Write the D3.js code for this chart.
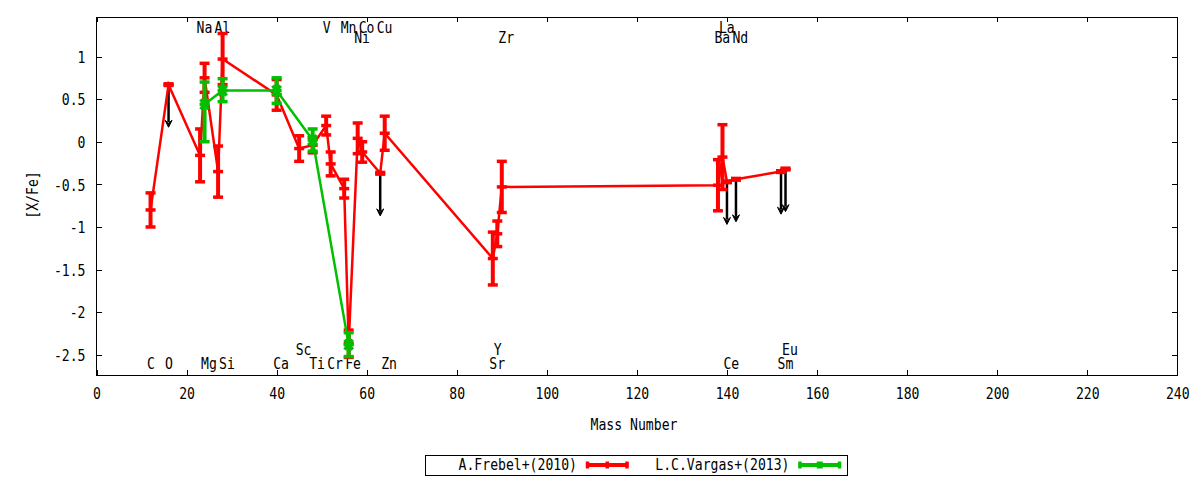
<!DOCTYPE html>
<html>
<head>
<meta charset="utf-8">
<script src="https://d3js.org/d3.v7.min.js"></script>
<style>
  body { margin: 0; background: #fff; }
  text { font-family: "DejaVu Sans Mono", monospace; font-size: 16px; fill: #000; }
</style>
</head>
<body>
<script>
// A.Frebel+(2010)
var frebelElem  = ["C","O","Na","Mg","Al","Si","Ca","Sc","Ti","V","Cr","Mn","Fe","Ni","Co","Cu","Zn","Sr","Y","Zr","Ba","La","Ce","Nd","Sm","Eu"];
var frebelMass  = [12, 16, 23, 24, 27, 28, 40, 45, 48, 51, 52, 55, 56, 58, 59, 63, 64, 88, 89, 90, 138, 139, 140, 142, 152, 153];
var frebelVal   = [-0.80, 0.67, -0.16, 0.75, -0.35, 0.97, 0.55, -0.08, -0.04, 0.19, -0.26, -0.55, -2.37, 0.04, -0.12, -0.37, 0.10, -1.37, -1.08, -0.53, -0.51, -0.18, -0.47, -0.44, -0.35, -0.32];
var frebelErr   = [0.20, 0.01, 0.31, 0.17, 0.30, 0.30, 0.18, 0.15, 0.09, 0.11, 0.14, 0.11, 0.16, 0.18, 0.12, 0.01, 0.20, 0.31, 0.15, 0.30, 0.30, 0.38, 0.01, 0.01, 0.01, 0.01];
var frebelUpper = [0, 1, 0, 0, 0, 0, 0, 0, 0, 0, 0, 0, 0, 0, 0, 1, 0, 0, 0, 0, 0, 0, 1, 1, 1, 1];

// L.C.Vargas+(2013)
var vargasElem  = ["Mg","Si","Ca","Ti","Fe"];
var vargasMass  = [24, 28, 40, 48, 56];
var vargasVal   = [0.44, 0.60, 0.60, 0.02, -2.38];
var vargasErrLo = [0.44, 0.13, 0.15, 0.13, 0.14];
var vargasErrHi = [0.26, 0.14, 0.15, 0.13, 0.14];

// element labels (mass number, y in [X/Fe] units)
var labelText = ["Na","Al","V","Mn","Co","Cu","La","Ni","Zr","Ba","Nd","Sc","Y","Eu","C","O","Mg","Si","Ca","Ti","Cr","Fe","Zn","Sr","Ce","Sm"];
var labelMass = [23, 27, 51, 55, 59, 63, 139, 58, 90, 138, 142, 45, 89, 153, 12, 16, 24, 28, 40, 48, 52, 56, 64, 88, 140, 152];
var labelY    = [1.28, 1.28, 1.28, 1.28, 1.28, 1.28, 1.28, 1.155, 1.155, 1.155, 1.155, -2.50, -2.50, -2.50,
                 -2.665, -2.665, -2.665, -2.665, -2.665, -2.665, -2.665, -2.665, -2.665, -2.665, -2.665, -2.665];

var xTicks = [0, 20, 40, 60, 80, 100, 120, 140, 160, 180, 200, 220, 240];
var yTicks = [-2.5, -2, -1.5, -1, -0.5, 0, 0.5, 1];

var RED = "#ff0000", GREEN = "#00c000";
var SQ = "scale(0.82,1)";   // narrow the mono font like gnuplot's

var svg = d3.select("body").append("svg")
  .attr("width", 1200)
  .attr("height", 480);

var x = d3.scaleLinear().domain([0, 240]).range([96.5, 1177.3]);
var y = d3.scaleLinear().domain([-2.74, 1.46]).range([375.3, 17.3]);

//=== axes (inward ticks on all four sides)
var gB = svg.append("g").attr("transform", "translate(0,375.3)")
  .call(d3.axisBottom(x).tickValues(xTicks).tickSize(-5).tickFormat(d3.format("d")));
gB.selectAll("text").attr("y", 24).attr("dy", null).attr("transform", SQ)
  .style("font-size", "16px").style("font-family", null);

var gT = svg.append("g").attr("transform", "translate(0,17.3)")
  .call(d3.axisTop(x).tickValues(xTicks).tickSize(-5).tickFormat(""));

var gL = svg.append("g").attr("transform", "translate(96.5,0)")
  .call(d3.axisLeft(y).tickValues(yTicks).tickSize(-5).tickFormat(function (d) { return String(d); }));
gL.selectAll("text").attr("x", null).attr("dy", "0.36em")
  .attr("transform", "translate(-11,0) " + SQ)
  .style("font-size", "16px").style("font-family", null);

var gR = svg.append("g").attr("transform", "translate(1177.3,0)")
  .call(d3.axisRight(y).tickValues(yTicks).tickSize(-5).tickFormat(""));

svg.selectAll(".domain").remove();
svg.selectAll(".tick line").attr("shape-rendering", "crispEdges");

svg.append("rect")
  .attr("x", 96.5).attr("y", 17.3)
  .attr("width", 1177.3 - 96.5).attr("height", 375.3 - 17.3)
  .attr("fill", "none").attr("stroke", "#000").attr("stroke-width", 1)
  .attr("shape-rendering", "crispEdges");

//=== axis titles
svg.append("text")
  .attr("transform", "translate(634,430) " + SQ)
  .attr("text-anchor", "middle")
  .text("Mass Number");

svg.append("text")
  .attr("transform", "translate(32,195) rotate(-90) " + SQ)
  .attr("text-anchor", "middle")
  .attr("dy", "0.36em")
  .text("[X/Fe]");

//=== element labels
svg.append("g").selectAll("text")
  .data(labelText)
  .join("text")
    .attr("transform", function (d, i) { return "translate(" + (x(labelMass[i]) - 3.5) + "," + y(labelY[i]) + ") " + SQ; })
    .text(function (d) { return d; });

//=== upper limit arrows (black, 0.5 dex down)
var plot = svg.append("g");
var ulIdx = d3.range(frebelMass.length).filter(function (i) { return frebelUpper[i]; });

plot.selectAll("line.ul")
  .data(ulIdx)
  .join("line")
    .attr("class", "ul")
    .attr("x1", function (i) { return x(frebelMass[i]); })
    .attr("x2", function (i) { return x(frebelMass[i]); })
    .attr("y1", function (i) { return y(frebelVal[i]); })
    .attr("y2", function (i) { return y(frebelVal[i] - 0.5) - 5; })
    .attr("stroke", "#000").attr("stroke-width", 2.5);

plot.selectAll("path.head")
  .data(ulIdx)
  .join("path")
    .attr("class", "head")
    .attr("d", function (i) {
      var px = x(frebelMass[i]), py = y(frebelVal[i] - 0.5);
      return "M" + (px - 3.5) + "," + (py - 7) + "L" + px + "," + (py - 4) + "L" + (px + 3.5) + "," + (py - 7) + "L" + px + "," + py + "Z";
    })
    .attr("fill", "#000").attr("stroke", "#000").attr("stroke-width", 1);

//=== series with error bars
function drawSeries(mass, val, lo, hi, color, green) {
  var g = svg.append("g");
  var idx = d3.range(mass.length);

  var line = d3.line()
    .x(function (i) { return x(mass[i]); })
    .y(function (i) { return y(val[i]); });

  g.append("path")
    .attr("d", line(idx))
    .attr("fill", "none")
    .attr("stroke", color)
    .attr("stroke-width", 2.5);

  g.selectAll("line.bar")
    .data(idx)
    .join("line")
      .attr("class", "bar")
      .attr("x1", function (i) { return x(mass[i]); })
      .attr("x2", function (i) { return x(mass[i]); })
      .attr("y1", function (i) { return y(val[i] + hi[i]); })
      .attr("y2", function (i) { return y(val[i] - lo[i]); })
      .attr("stroke", color).attr("stroke-width", 4);

  // caps at both ends and the point mark in the middle
  var caps = [];
  idx.forEach(function (i) {
    caps.push([mass[i], val[i] + hi[i]]);
    caps.push([mass[i], val[i] - lo[i]]);
    caps.push([mass[i], val[i]]);
  });
  g.selectAll("line.cap")
    .data(caps)
    .join("line")
      .attr("class", "cap")
      .attr("x1", function (d) { return x(d[0]) - 5; })
      .attr("x2", function (d) { return x(d[0]) + 5; })
      .attr("y1", function (d) { return y(d[1]); })
      .attr("y2", function (d) { return y(d[1]); })
      .attr("stroke", color).attr("stroke-width", 3.5);

  if (green) {
    g.selectAll("path.mark")
      .data(idx)
      .join("path")
        .attr("class", "mark")
        .attr("d", function (i) {
          var px = x(mass[i]), py = y(val[i]);
          return "M" + (px - 4) + "," + (py - 5) + "L" + (px + 4) + "," + (py + 5) +
                 "M" + (px + 4) + "," + (py - 5) + "L" + (px - 4) + "," + (py + 5);
        })
        .attr("stroke", color).attr("stroke-width", 3.5);
  }
}

drawSeries(frebelMass, frebelVal, frebelErr, frebelErr, RED, false);
drawSeries(vargasMass, vargasVal, vargasErrLo, vargasErrHi, GREEN, true);

//=== legend
var leg = svg.append("g");
leg.append("rect")
  .attr("x", 425.5).attr("y", 455.5).attr("width", 422).attr("height", 19.5)
  .attr("fill", "none").attr("stroke", "#000").attr("stroke-width", 1)
  .attr("shape-rendering", "crispEdges");

var legText = ["A.Frebel+(2010)", "L.C.Vargas+(2013)"];
var legColor = [RED, GREEN];
var legEnd = [577, 789.5];

legText.forEach(function (t, i) {
  leg.append("text")
    .attr("transform", "translate(" + legEnd[i] + ",470) " + SQ)
    .attr("text-anchor", "end")
    .text(t);
  var x0 = legEnd[i] + 9, x1 = x0 + 42.5, xm = (x0 + x1) / 2, ly = 465;
  leg.append("line").attr("x1", x0).attr("x2", x1).attr("y1", ly).attr("y2", ly)
    .attr("stroke", legColor[i]).attr("stroke-width", 4);
  [x0 + 1.5, x1 - 1.5].forEach(function (cx) {
    leg.append("line").attr("x1", cx).attr("x2", cx).attr("y1", ly - 3.5).attr("y2", ly + 3.5)
      .attr("stroke", legColor[i]).attr("stroke-width", 3.5);
  });
  leg.append("line").attr("x1", xm).attr("x2", xm).attr("y1", ly - 3.5).attr("y2", ly + 3.5)
    .attr("stroke", legColor[i]).attr("stroke-width", i ? 6 : 3.5);
});
</script>
</body>
</html>
